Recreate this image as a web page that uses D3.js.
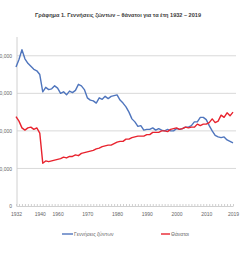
<!DOCTYPE html>
<html>
<head>
<meta charset="utf-8">
<script src="https://cdn.jsdelivr.net/npm/d3@7"></script>
<style>
  body { margin: 0; background: #fff; }
  text { font-family: "Liberation Sans", "DejaVu Sans", sans-serif; }
</style>
</head>
<body>
<script>
let width = 240;
let height = 255;

// years in the table: 1932-1940, then 1955-2019 (war years missing)
const years = d3.range(1932, 1941).concat(d3.range(1955, 2020));
const labelYears = [1932, 1940, 1960, 1970, 1980, 1990, 2000, 2010, 2019];
const yTicks = [0, 50000, 100000, 150000, 200000];

const births = [
	185000, 195000, 208000, 196000, 190000, 186000, 182000, 180000, 175000,
	152000, 158000, 155000, 156000, 160000, 157000, 150000, 152000, 148000, 153000,
	151000, 154000, 162000, 160000, 155000, 144000, 141000, 140000, 137000, 144000,
	142000, 146000, 143000, 146000, 147000, 148000, 141000, 137000, 132000, 125000,
	116000, 112000, 106000, 107000, 101000, 102000, 102000, 104000, 101000, 103000,
	101000, 100000, 102000, 100000, 100000, 103000, 102000, 103000, 105000, 105000,
	107000, 112000, 112000, 118000, 118000, 115000, 107000, 100000, 94000, 92000,
	91000, 92000, 88000, 86000, 84000
];

const deaths = [
	119000, 113000, 104000, 101000, 104000, 105000, 102000, 104000, 97000,
	57000, 60000, 59000, 60000, 61000, 62000, 63000, 65000, 64000, 66000,
	66000, 68000, 67000, 70000, 71000, 72000, 73000, 74000, 76000, 77000,
	79000, 80000, 81000, 81000, 83000, 85000, 86000, 86000, 89000, 89000,
	91000, 92000, 93000, 93000, 93000, 95000, 95000, 98000, 98000, 98000,
	100000, 100000, 99000, 102000, 103000, 104000, 102000, 103000, 105000, 104000,
	105000, 105000, 109000, 107000, 109000, 109000, 111000, 116000, 111000, 113000,
	121000, 118000, 124000, 120000, 125000
];

const series = [
	{ name: 'Γεννήσεις ζώντων', values: births, color: '#4f75bd' },
	{ name: 'Θάνατοι', values: deaths, color: '#e8232e' }
];

let svg = d3.select('body').append('svg')
	.attr('width', width)
	.attr('height', height)
	.style('background', '#fff');

let x = d3.scalePoint().domain(years).range([16, 233]);
let y = d3.scaleLinear().domain([0, 225000]).range([206, 37]);

// title
svg.append('text')
	.attr('x', 118)
	.attr('y', 17)
	.attr('text-anchor', 'middle')
	.attr('textLength', 166)
	.attr('lengthAdjust', 'spacingAndGlyphs')
	.style('font-size', '5.6px')
	.style('font-weight', 'bold')
	.style('fill', '#3a3a3a')
	.text('Γράφημα 1. Γεννήσεις ζώντων – θάνατοι για τα έτη 1932 – 2019');

// gridlines
svg.append('g')
	.selectAll('line')
	.data(yTicks.filter(d => d > 0))
	.join('line')
	.attr('x1', 17)
	.attr('x2', 236)
	.attr('y1', d => y(d))
	.attr('y2', d => y(d))
	.style('stroke', '#d9d9d9')
	.style('stroke-width', 1);

// y axis
let yAxis = svg.append('g')
	.attr('transform', 'translate(17,0)')
	.call(d3.axisLeft(y).tickValues(yTicks).tickSize(0).tickPadding(5)
		.tickFormat(d3.format(',')));
yAxis.select('.domain').attr('d', 'M0,37V206').style('stroke', '#d0d0d0');
yAxis.selectAll('text').style('font-size', '5px').style('fill', '#666');

// x axis, a tick on every year, label on some
let xAxis = svg.append('g')
	.attr('transform', 'translate(0,206)')
	.call(d3.axisBottom(x).tickSizeInner(-2).tickSizeOuter(0).tickPadding(6)
		.tickFormat(d => labelYears.includes(d) ? d : ''));
xAxis.select('.domain').style('stroke', '#d0d0d0');
xAxis.selectAll('line').style('stroke', '#d0d0d0');
xAxis.selectAll('text').style('font-size', '5px').style('fill', '#666');

// lines
let line = d3.line()
	.x((d, i) => x(years[i]))
	.y(d => y(d));

for (let s of series) {
	svg.append('path')
		.datum(s.values)
		.attr('d', line)
		.style('fill', 'none')
		.style('stroke', s.color)
		.style('stroke-width', 1.4)
		.style('stroke-linejoin', 'round');
}

// legend
let legendX = [62, 161];
series.forEach((s, i) => {
	let g = svg.append('g').attr('transform', 'translate(' + legendX[i] + ',234)');
	g.append('line')
		.attr('x1', 0).attr('x2', i === 0 ? 11 : 9)
		.style('stroke', s.color)
		.style('stroke-width', 1.4);
	g.append('text')
		.attr('x', i === 0 ? 12 : 10)
		.attr('y', 1.8)
		.style('font-size', '5px')
		.style('fill', '#666')
		.text(s.name);
});
</script>
</body>
</html>
